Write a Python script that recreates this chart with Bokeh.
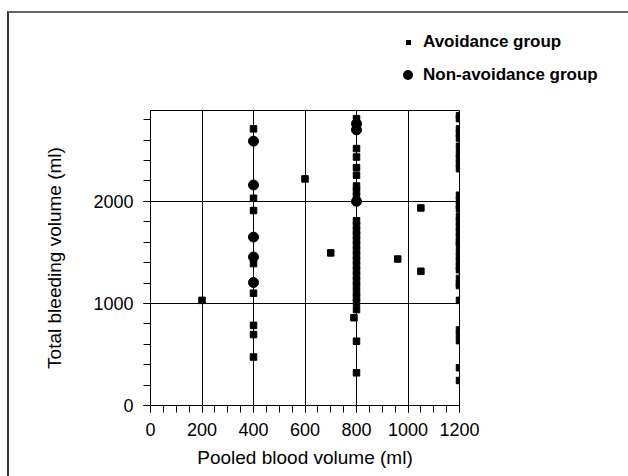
from bokeh.plotting import figure
from bokeh.layouts import column
from bokeh.models import Range1d, FixedTicker, Div
from bokeh.embed import file_html
from bokeh.resources import INLINE

# ---- data ----
x_ticks = [0, 200, 400, 600, 800, 1000, 1200]
y_ticks = [0, 1000, 2000]

# Avoidance group (squares)
avoid_x = ([200] + [400] * 8 + [600, 700, 960, 1050, 1050, 790]
           + [800] * 29 + [1200] * 35)
avoid_y = ([1030]
           + [2710, 2030, 1910, 1390, 1100, 785, 695, 475]
           + [2220, 1495, 1435, 1935, 1315, 860]
           + [2810, 2517, 2434, 2330, 2255, 2150, 2100, 2050,
              1810, 1760, 1710, 1670, 1620, 1570, 1520, 1470, 1420, 1370,
              1320, 1270, 1220, 1170, 1110, 1060, 1010, 940, 630, 320, 2740]
           + [2840, 2810, 2710, 2665, 2620, 2540, 2470, 2420, 2370, 2320,
              2060, 2010, 1960, 1925, 1850, 1800, 1750, 1700, 1650, 1600,
              1580, 1510, 1460, 1410, 1360, 1330, 1245, 1195, 1175, 1030,
              740, 690, 635, 370, 245])

# Non-avoidance group (circles)
nonavoid_x = [400, 400, 400, 400, 400, 800, 800, 800]
nonavoid_y = [2590, 2160, 1650, 1455, 1205, 2760, 2700, 2000]

legend_labels = ["Avoidance group", "Non-avoidance group"]

FONT = "Liberation Sans"

# ---------------- legend strip (above the plot) ----------------
txt = ("position:absolute;left:414px;height:20px;line-height:20px;"
       "font-family:'Liberation Sans';font-weight:bold;font-size:17px;"
       "color:black;white-space:nowrap;")
legend_html = (
    '<div style="position:relative;width:619px;height:96px;margin:0;padding:0;">'
    '<div style="position:absolute;left:397px;top:27px;width:5px;height:5px;'
    'background:black;"></div>'
    f'<div style="{txt}top:19px;">{legend_labels[0]}</div>'
    '<div style="position:absolute;left:394px;top:57px;width:10px;height:10px;'
    'border-radius:50%;background:black;"></div>'
    f'<div style="{txt}top:52px;">{legend_labels[1]}</div>'
    '</div>'
)
lg = Div(text=legend_html, width=619, height=96, margin=0)

# ---------------- main plot ----------------
p = figure(width=619, height=367, output_backend="svg", toolbar_location=None,
           x_range=Range1d(0, 1200), y_range=Range1d(0, 2890),
           min_border_left=141, min_border_right=169,
           min_border_top=1, min_border_bottom=71)
p.frame_width = 309
p.frame_height = 295

p.outline_line_color = "black"
p.outline_line_width = 1
p.background_fill_color = "white"
p.border_fill_color = "white"

p.xaxis.ticker = FixedTicker(ticks=x_ticks, minor_ticks=list(range(0, 1201, 50)))
p.yaxis.ticker = FixedTicker(ticks=y_ticks, minor_ticks=list(range(0, 2801, 200)))
for ax in (p.xaxis[0], p.yaxis[0]):
    ax.axis_line_color = "black"
    ax.major_tick_line_color = "black"
    ax.minor_tick_line_color = "black"
    ax.major_tick_in = 0
    ax.major_tick_out = 7
    ax.minor_tick_in = 0
    ax.minor_tick_out = 7
    ax.major_label_text_font = FONT
    ax.major_label_text_font_size = "18px"
    ax.major_label_text_color = "black"
    ax.axis_label_text_font = FONT
    ax.axis_label_text_font_size = "19px"
    ax.axis_label_text_font_style = "normal"
    ax.axis_label_text_color = "black"
p.xaxis.axis_label = "Pooled blood volume (ml)"
p.yaxis.axis_label = "Total bleeding volume (ml)"
p.xaxis.major_label_standoff = 10
p.xaxis.axis_label_standoff = 8
p.yaxis.major_label_standoff = 10
p.yaxis.axis_label_standoff = 25

p.xgrid.grid_line_color = "black"
p.ygrid.grid_line_color = "black"
p.xgrid.grid_line_alpha = 1
p.ygrid.grid_line_alpha = 1
p.xgrid.grid_line_width = 1
p.ygrid.grid_line_width = 1

p.scatter(avoid_x, avoid_y, marker="square", size=6.5,
          fill_color="black", line_color="black")
p.scatter(nonavoid_x, nonavoid_y, marker="circle", size=10,
          fill_color="black", line_color="black")

root = column(lg, p, spacing=0,
              styles={"margin-left": "7px", "margin-top": "11px",
                      "border-left": "2px solid #333",
                      "border-top": "2px solid #666"})

open("out.html", "w").write(file_html(root, INLINE))
